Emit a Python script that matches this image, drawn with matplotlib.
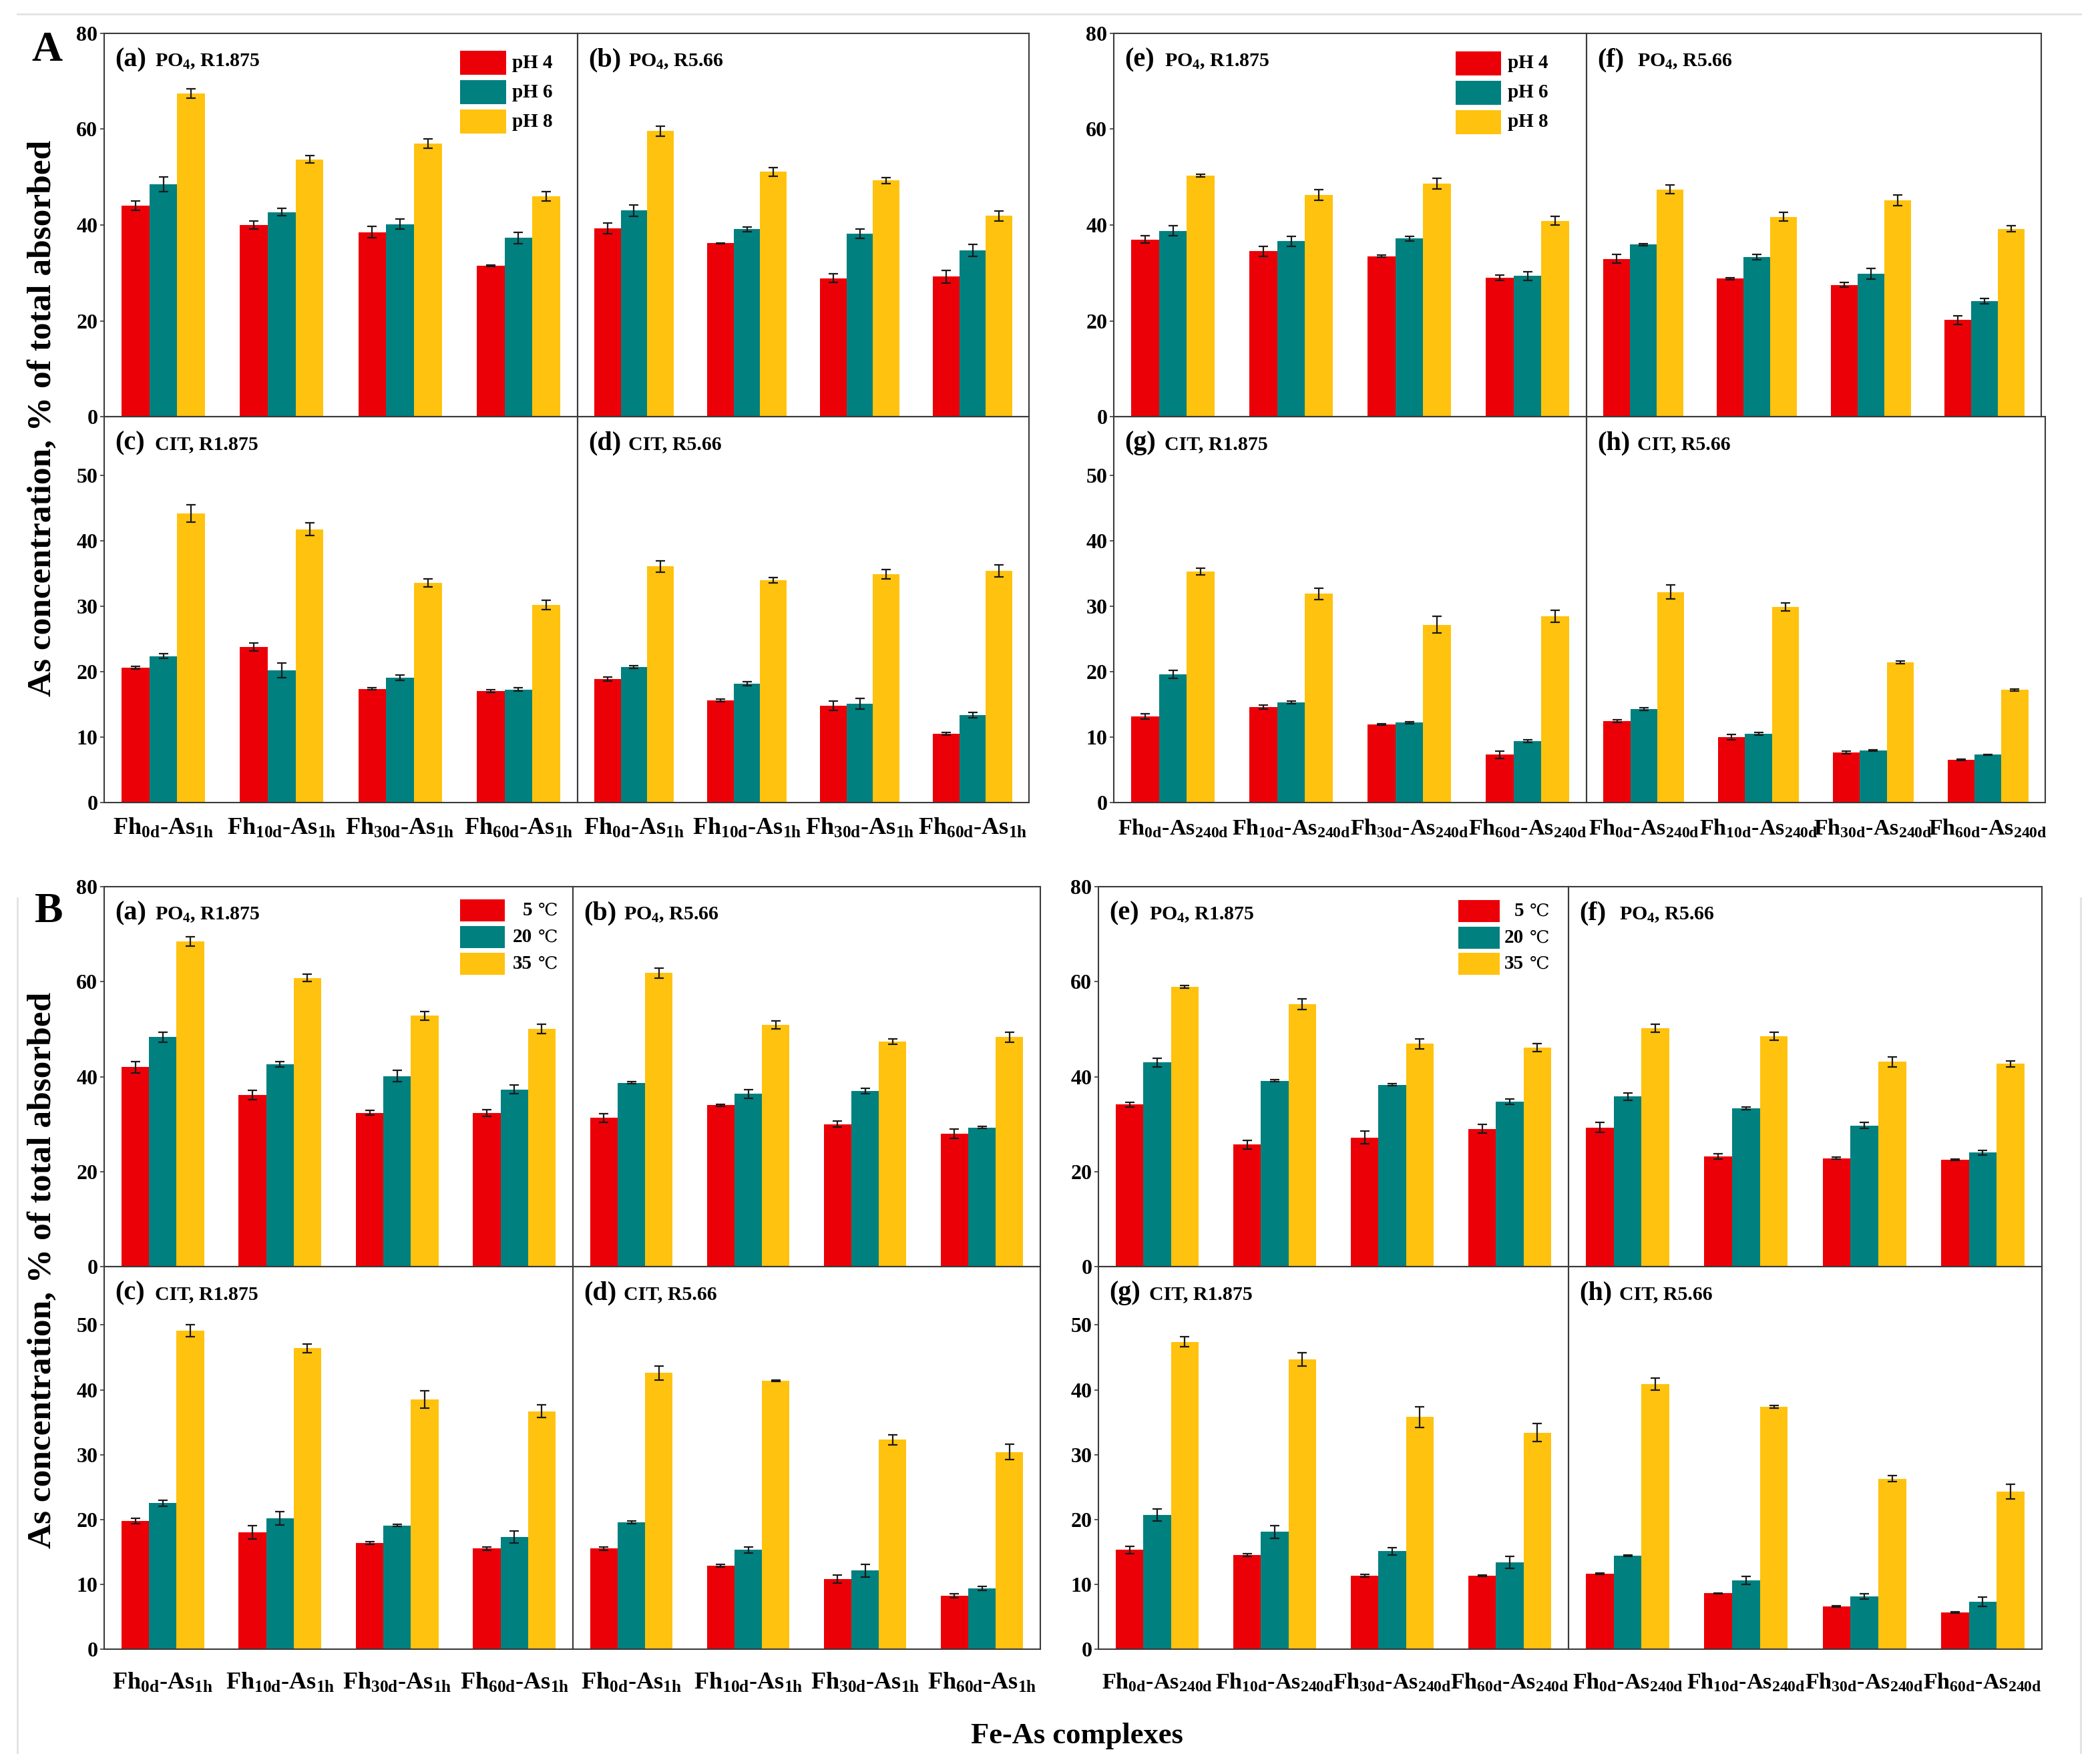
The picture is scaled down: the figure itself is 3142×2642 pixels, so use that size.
import matplotlib
matplotlib.use("Agg")
import matplotlib.pyplot as plt
import numpy as np
from matplotlib.patches import Rectangle
from matplotlib.lines import Line2D

plt.rcParams['font.family'] = ['Liberation Serif', 'DejaVu Serif', 'DejaVu Sans']
plt.rcParams['font.weight'] = 'bold'
plt.rcParams['mathtext.fontset'] = 'custom'
plt.rcParams['mathtext.rm'] = 'Liberation Serif:bold'
plt.rcParams['mathtext.it'] = 'Liberation Serif:bold:italic'
plt.rcParams['mathtext.bf'] = 'Liberation Serif:bold'
plt.rcParams['mathtext.default'] = 'rm'

# ---------------- data ----------------
CATS_1H = ["Fh$_{0d}$-As$_{1h}$", "Fh$_{10d}$-As$_{1h}$", "Fh$_{30d}$-As$_{1h}$", "Fh$_{60d}$-As$_{1h}$"]
CATS_240D = ["Fh$_{0d}$-As$_{240d}$", "Fh$_{10d}$-As$_{240d}$", "Fh$_{30d}$-As$_{240d}$", "Fh$_{60d}$-As$_{240d}$"]
SERIES_A = ["pH 4", "pH 6", "pH 8"]
SERIES_B_NUM = ["5", "20", "35"]
DEG_C = "\u2103"
COLORS = ["#EC0008", "#00807F", "#FFC20E"]

TITLE_LETTERS = ["(a)", "(b)", "(c)", "(d)", "(e)", "(f)", "(g)", "(h)"]
TITLE_TEXT = ["PO$_4$, R1.875", "PO$_4$, R5.66", "CIT, R1.875", "CIT, R5.66",
              "PO$_4$, R1.875", "PO$_4$, R5.66", "CIT, R1.875", "CIT, R5.66"]

# Figure A (pH) -- rows: series (pH4, pH6, pH8), columns: categories
A_a_val = [[44.0, 40.0, 38.5, 31.5], [48.5, 42.7, 40.2, 37.3], [67.5, 53.7, 57.0, 46.0]]
A_a_err = [[1.0, 0.8, 1.2, 0.2], [1.5, 0.8, 1.0, 1.2], [1.0, 0.8, 1.0, 1.0]]
A_b_val = [[39.3, 36.2, 28.9, 29.2], [43.0, 39.1, 38.2, 34.7], [59.6, 51.1, 49.3, 41.9]]
A_b_err = [[1.1, 0.1, 0.9, 1.3], [1.2, 0.5, 1.0, 1.3], [1.0, 0.9, 0.6, 1.0]]
A_c_val = [[20.6, 23.8, 17.4, 17.0], [22.4, 20.2, 19.1, 17.3], [44.2, 41.8, 33.6, 30.2]]
A_c_err = [[0.2, 0.6, 0.2, 0.2], [0.4, 1.1, 0.4, 0.3], [1.3, 1.0, 0.6, 0.7]]
A_d_val = [[18.9, 15.6, 14.8, 10.5], [20.7, 18.2, 15.1, 13.4], [36.1, 34.0, 34.9, 35.4]]
A_d_err = [[0.3, 0.2, 0.7, 0.2], [0.2, 0.3, 0.8, 0.4], [0.9, 0.4, 0.7, 0.9]]
A_e_val = [[37.0, 34.5, 33.5, 29.0], [38.8, 36.6, 37.2, 29.4], [50.3, 46.3, 48.6, 40.9]]
A_e_err = [[0.8, 1.1, 0.2, 0.5], [1.0, 1.1, 0.5, 0.9], [0.3, 1.1, 1.1, 0.9]]
A_f_val = [[32.9, 28.8, 27.5, 20.2], [35.9, 33.3, 29.8, 24.1], [47.4, 41.7, 45.2, 39.2]]
A_f_err = [[0.9, 0.2, 0.5, 0.9], [0.2, 0.6, 1.1, 0.6], [0.9, 0.9, 1.1, 0.6]]
A_g_val = [[13.2, 14.6, 11.9, 7.3], [19.6, 15.3, 12.2, 9.4], [35.3, 31.9, 27.2, 28.5]]
A_g_err = [[0.4, 0.3, 0.1, 0.6], [0.6, 0.2, 0.2, 0.2], [0.5, 0.9, 1.3, 0.9]]
A_h_val = [[12.5, 10.0, 7.7, 6.5], [14.3, 10.5, 8.0, 7.3], [32.2, 29.9, 21.4, 17.2]]
A_h_err = [[0.2, 0.4, 0.2, 0.1], [0.2, 0.2, 0.1, 0.1], [1.1, 0.6, 0.2, 0.2]]

# Figure B (temperature)
B_a_val = [[42.0, 36.1, 32.4, 32.3], [48.3, 42.6, 40.1, 37.3], [68.5, 60.8, 52.8, 50.1]]
B_a_err = [[1.2, 1.0, 0.5, 0.7], [1.0, 0.6, 1.2, 0.9], [1.0, 0.8, 0.9, 1.0]]
B_b_val = [[31.3, 34.0, 30.0, 28.0], [38.7, 36.4, 37.0, 29.3], [61.8, 50.9, 47.4, 48.3]]
B_b_err = [[0.9, 0.2, 0.6, 1.0], [0.2, 0.9, 0.6, 0.2], [1.1, 0.8, 0.6, 1.1]]
B_c_val = [[19.8, 18.0, 16.4, 15.5], [22.5, 20.2, 19.1, 17.3], [49.1, 46.4, 38.5, 36.7]]
B_c_err = [[0.4, 1.0, 0.2, 0.3], [0.5, 1.0, 0.2, 0.9], [0.9, 0.7, 1.3, 1.0]]
B_d_val = [[15.5, 12.9, 10.8, 8.2], [19.6, 15.3, 12.1, 9.4], [42.6, 41.4, 32.3, 30.4]]
B_d_err = [[0.3, 0.2, 0.6, 0.3], [0.2, 0.5, 1.0, 0.3], [1.1, 0.1, 0.8, 1.2]]
B_e_val = [[34.1, 25.7, 27.2, 29.0], [43.0, 39.1, 38.3, 34.7], [58.9, 55.3, 46.9, 46.1]]
B_e_err = [[0.5, 0.9, 1.3, 0.9], [0.9, 0.2, 0.2, 0.6], [0.3, 1.1, 1.0, 0.8]]
B_f_val = [[29.3, 23.2, 22.8, 22.5], [35.8, 33.3, 29.7, 24.0], [50.2, 48.5, 43.1, 42.7]]
B_f_err = [[1.1, 0.6, 0.2, 0.2], [0.8, 0.3, 0.6, 0.5], [0.8, 0.9, 1.1, 0.6]]
B_g_val = [[15.3, 14.5, 11.3, 11.3], [20.7, 18.1, 15.1, 13.4], [47.4, 44.7, 35.8, 33.4]]
B_g_err = [[0.6, 0.2, 0.2, 0.1], [0.9, 1.0, 0.6, 0.9], [0.8, 1.0, 1.6, 1.4]]
B_h_val = [[11.6, 8.6, 6.6, 5.7], [14.4, 10.6, 8.1, 7.3], [40.9, 37.4, 26.3, 24.3]]
B_h_err = [[0.1, 0.1, 0.1, 0.1], [0.1, 0.6, 0.4, 0.7], [0.9, 0.2, 0.5, 1.1]]

YTICKS_TOP = [0, 20, 40, 60, 80]
YTICKS_BOT = [0, 10, 20, 30, 40, 50]

# ---------------- layout (pixels) ----------------
W, H = 3142, 2642
fig = plt.figure(figsize=(W / 100, H / 100), dpi=100)
fig.patch.set_facecolor('white')


def rect(x0, x1, y0, y1):
    return [x0 / W, 1 - y1 / H, (x1 - x0) / W, (y1 - y0) / H]


def fx(x):
    return x / W


def fy(y):
    return 1 - y / H


BAR_W = 0.235
SPINE_C = '#3a3a3a'


def draw_panel(ax, vals, errs, cats, ylim, yticks, show_y, letter, text, tick_pad, tick_fs):
    x = np.arange(len(cats))
    for i in range(3):
        ax.bar(x + (i - 1) * BAR_W, vals[i], BAR_W, color=COLORS[i], yerr=errs[i],
               error_kw=dict(ecolor='#1a1a1a', elinewidth=1.6, capsize=5, capthick=1.6),
               zorder=2)
    ax.set_xlim(-0.5, len(cats) - 0.5)
    ax.set_ylim(*ylim)
    ax.set_xticks(x)
    if tick_pad is not None:
        ax.set_xticklabels(cats, fontsize=tick_fs, fontweight='bold')
        ax.tick_params(axis='x', length=0, pad=tick_pad)
    else:
        ax.tick_params(axis='x', length=0, labelbottom=False)
    ax.set_yticks(yticks)
    if show_y:
        ax.set_yticklabels([str(t) for t in yticks], fontsize=23, fontweight='bold')
        ax.tick_params(axis='y', direction='out', length=4, width=1.2, pad=3, color=SPINE_C)
    else:
        ax.tick_params(axis='y', left=False, labelleft=False)
    for s in ax.spines.values():
        s.set_color(SPINE_C)
        s.set_linewidth(1.5)
    ax.set_facecolor('none')
    ax.annotate(letter, xy=(0, 1), xycoords='axes fraction', xytext=(16, -49),
                textcoords='offset pixels', fontsize=29, fontweight='bold', va='baseline', ha='left')
    ax.annotate(text, xy=(0, 1), xycoords='axes fraction', xytext=(76, -49),
                textcoords='offset pixels', fontsize=21.5, fontweight='bold', va='baseline', ha='left')


def draw_patches(px0, px1, ys, h):
    for c, y in zip(COLORS, ys):
        fig.add_artist(Rectangle((fx(px0), fy(y + h)), (px1 - px0) / W, h / H,
                                 transform=fig.transFigure, facecolor=c, edgecolor='none'))


def draw_legend_ph(px0, px1, ys, h, text_x):
    draw_patches(px0, px1, ys, h)
    for lab, y in zip(SERIES_A, ys):
        fig.text(fx(text_x), fy(y + h / 2), lab, fontsize=21, fontweight='bold', va='center', ha='left')


def draw_legend_temp(px0, px1, ys, h, num_right, unit_left):
    draw_patches(px0, px1, ys, h)
    for num, y in zip(SERIES_B_NUM, ys):
        fig.text(fx(num_right), fy(y + h / 2), num, fontsize=21, fontweight='bold', va='center', ha='right')
        fig.text(fx(unit_left), fy(y + h / 2), DEG_C, fontsize=19, fontweight='normal',
                 va='center', ha='left', family=['DejaVu Serif', 'DejaVu Sans'])


groups = [
    dict(xs=(156, 865, 1541, 1541), ys=(50, 624, 1202), cats=CATS_1H, pad=16, fs=26,
         data=[(A_a_val, A_a_err), (A_b_val, A_b_err), (A_c_val, A_c_err), (A_d_val, A_d_err)], idx=[0, 1, 2, 3]),
    dict(xs=(1668, 2376, 3057, 3063), ys=(50, 624, 1202), cats=CATS_240D, pad=16, fs=24.5,
         data=[(A_e_val, A_e_err), (A_f_val, A_f_err), (A_g_val, A_g_err), (A_h_val, A_h_err)], idx=[4, 5, 6, 7]),
    dict(xs=(156, 858, 1558, 1558), ys=(1328, 1897, 2470), cats=CATS_1H, pad=24, fs=26,
         data=[(B_a_val, B_a_err), (B_b_val, B_b_err), (B_c_val, B_c_err), (B_d_val, B_d_err)], idx=[0, 1, 2, 3]),
    dict(xs=(1645, 2349, 3058, 3058), ys=(1328, 1897, 2470), cats=CATS_240D, pad=24, fs=24.5,
         data=[(B_e_val, B_e_err), (B_f_val, B_f_err), (B_g_val, B_g_err), (B_h_val, B_h_err)], idx=[4, 5, 6, 7]),
]

for g in groups:
    x0, xs, xr_t, xr_b = g['xs']
    yt, ym, yb = g['ys']
    specs = [
        (rect(x0, xs, yt, ym), (0, 80), YTICKS_TOP, True, None),
        (rect(xs, xr_t, yt, ym), (0, 80), YTICKS_TOP, False, None),
        (rect(x0, xs, ym, yb), (0, 59), YTICKS_BOT, True, g['pad']),
        (rect(xs, xr_b, ym, yb), (0, 59), YTICKS_BOT, False, g['pad']),
    ]
    for k, (r, yl, yt_, showy, pad) in enumerate(specs):
        ax = fig.add_axes(r)
        vals, errs = g['data'][k]
        li = g['idx'][k]
        draw_panel(ax, vals, errs, g['cats'], yl, yt_, showy, TITLE_LETTERS[li], TITLE_TEXT[li], pad, g['fs'])

# legends
draw_legend_ph(689, 758, [76, 120, 164], 36, 767)
draw_legend_ph(2180, 2248, [77, 121, 165], 36, 2258)
draw_legend_temp(689, 756, [1347, 1387, 1427], 33, 797, 806)
draw_legend_temp(2184, 2246, [1348, 1388, 1427], 33, 2282, 2291)

# figure-level labels
fig.text(fx(70), fy(76), "A", fontsize=46, fontweight='bold', ha='center', va='center')
fig.text(fx(73), fy(1366), "B", fontsize=46, fontweight='bold', ha='center', va='center')
fig.text(fx(64), fy(626), "As concentration, % of total absorbed", fontsize=37, fontweight='bold',
         rotation=90, ha='center', va='center')
fig.text(fx(64), fy(1902), "As concentration, % of total absorbed", fontsize=37, fontweight='bold',
         rotation=90, ha='center', va='center')
fig.text(fx(1613), fy(2600), "Fe-As complexes", fontsize=32, fontweight='bold', ha='center', va='center')

# faint page border lines
fig.add_artist(Line2D([fx(26), fx(3116)], [fy(21), fy(21)], transform=fig.transFigure, color='#e2e2e2', lw=2))
fig.add_artist(Line2D([fx(26), fx(26)], [fy(1345), fy(2625)], transform=fig.transFigure, color='#e2e2e2', lw=2))
fig.add_artist(Line2D([fx(3116), fx(3116)], [fy(1345), fy(2625)], transform=fig.transFigure, color='#e2e2e2', lw=2))

fig.savefig("out.png", dpi=100)
